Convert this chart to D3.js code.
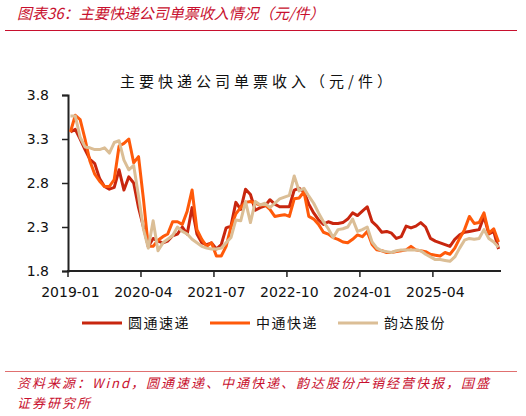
<!DOCTYPE html>
<html>
<head>
<meta charset="utf-8">
<script src="https://cdn.jsdelivr.net/npm/d3@7/dist/d3.min.js"></script>
<style>
  html, body { margin: 0; padding: 0; background: #fff; }
  svg { display: block; }
</style>
</head>
<body>
<div id="chart"></div>
<script>
// Express companies: revenue per parcel, monthly
var startMonth = new Date(2019, 0, 1);
var monthCount = 89;
var tickLabels = ['2019-01', '2020-04', '2021-07', '2022-10', '2024-01', '2025-04'];
var yTicks = [1.8, 2.3, 2.8, 3.3, 3.8];

var seriesNames = ['圆通速递', '中通快递', '韵达股份'];

var ytoValues = [
  3.38, 3.41, 3.30, 3.18, 3.07, 3.02, 2.85, 2.76, 2.73, 2.75, 2.95, 2.72,
  2.87, 2.80, 2.52, 2.30, 2.08, 2.17, 2.14, 2.12, 2.14, 2.20, 2.22, 2.30,
  2.22, 2.52, 2.22, 2.12, 2.10, 2.12, 2.05, 2.10, 2.29, 2.31, 2.58, 2.50,
  2.73, 2.67, 2.49, 2.52, 2.54, 2.61, 2.56, 2.53, 2.53, 2.53, 2.72, 2.74,
  2.70, 2.56, 2.46, 2.38, 2.33, 2.36, 2.34, 2.34, 2.35, 2.39, 2.46, 2.43,
  2.48, 2.53, 2.36, 2.31, 2.24, 2.25, 2.23, 2.17, 2.19, 2.31, 2.29, 2.31,
  2.35, 2.30, 2.17, 2.14, 2.12, 2.10, 2.08, 2.16, 2.21, 2.24, 2.25, 2.26,
  2.27, 2.42, 2.22, 2.25, 2.05
];

var ztoValues = [
  3.38, 3.57, 3.52, 3.30, 3.05, 2.90, 2.82, 2.76, 2.76, 2.84, 3.22, 3.25,
  3.30, 3.03, 3.10, 2.62, 2.08, 2.08, 2.15, 2.19, 2.22, 2.36, 2.36, 2.33,
  2.48, 2.72, 2.27, 2.16, 2.08, 2.12, 1.97, 1.97, 2.08, 2.30, 2.45, 2.52,
  2.58, 2.59, 2.57, 2.55, 2.55, 2.50, 2.42, 2.43, 2.44, 2.42, 2.62, 2.63,
  2.70, 2.42, 2.39, 2.33, 2.24, 2.22, 2.18, 2.16, 2.13, 2.12, 2.16, 2.21,
  2.19, 2.25, 2.10, 2.04, 2.03, 2.01, 2.01, 2.02, 2.03, 2.04, 2.08, 2.04,
  2.03, 2.02, 1.99, 1.98, 1.97, 2.01, 1.99, 2.06, 2.17, 2.27, 2.42, 2.34,
  2.35, 2.46, 2.23, 2.28, 2.13
];

var yundaValues = [
  3.56, 3.56, 3.32, 3.21, 3.20, 3.18, 3.18, 3.20, 3.14, 3.26, 3.28, 3.06,
  2.95, 3.00, 2.65, 2.28, 2.06, 2.37, 2.03, 2.12, 2.16, 2.20, 2.30, 2.25,
  2.22, 2.16, 2.12, 2.08, 2.06, 2.05, 2.05, 2.06, 2.12, 2.18, 2.38, 2.37,
  2.59, 2.35, 2.59, 2.55, 2.57, 2.52, 2.57, 2.62, 2.64, 2.66, 2.88, 2.71,
  2.74, 2.65, 2.57, 2.46, 2.36, 2.28, 2.18, 2.27, 2.28, 2.30, 2.39, 2.25,
  2.27, 2.30, 2.13, 2.06, 2.03, 2.02, 2.01, 2.03, 2.04, 2.04, 2.04, 2.04,
  2.03, 1.99, 1.96, 1.93, 1.93, 1.92, 1.91, 1.96, 2.06, 2.15, 2.17, 2.16,
  2.17, 2.27, 2.17, 2.13, 2.07
];

(function() {
  'use strict';

  var W = 526, H = 416;
  var red = '#C8102E';
  var colors = ['#C8260E', '#FF5A0A', '#DBBE96'];
  var cjk = '"Noto Sans CJK SC", "Noto Sans", sans-serif';
  var numFont = '"DejaVu Sans", Verdana, sans-serif';

  var fmt = d3.timeFormat('%Y-%m');
  var months = d3.timeMonth.range(startMonth, d3.timeMonth.offset(startMonth, monthCount)).map(fmt);

  var svg = d3.select('#chart').append('svg')
    .attr('width', W)
    .attr('height', H)
    .attr('viewBox', '0 0 ' + W + ' ' + H);

  svg.append('rect').attr('width', W).attr('height', H).attr('fill', '#fff');

  // --- Header ---
  svg.append('text')
    .attr('x', 17).attr('y', 19)
    .style('font-family', cjk)
    .style('font-size', '15px')
    .style('font-style', 'italic')
    .style('fill', red)
    .text('图表36：主要快递公司单票收入情况（元/件）');

  svg.append('line')
    .attr('x1', 5).attr('x2', 517)
    .attr('y1', 30.5).attr('y2', 30.5)
    .style('stroke', red).style('stroke-width', 1);

  // Inner chart title
  svg.append('text')
    .attr('x', 258).attr('y', 87)
    .attr('text-anchor', 'middle')
    .style('font-family', cjk)
    .style('font-size', '15px')
    .style('letter-spacing', '4px')
    .style('fill', '#111')
    .text('主要快递公司单票收入（元/件）');

  // --- Scales ---
  var x = d3.scaleBand().domain(months).range([68, 501]).padding(0);
  var y = d3.scaleLinear().domain([1.8, 3.8]).range([271, 95]);

  // Y axis
  var yAxis = svg.append('g')
    .attr('transform', 'translate(68,0)')
    .call(d3.axisLeft(y).tickValues(yTicks).tickFormat(d3.format('.1f')).tickSize(6).tickPadding(13));
  yAxis.select('.domain').style('stroke', '#222').style('stroke-width', 2);
  yAxis.selectAll('.tick line').style('stroke', '#222').style('stroke-width', 1.5);
  yAxis.selectAll('.tick text')
    .style('font-family', numFont).style('font-size', '14px').style('fill', '#111');

  // X axis: ticks at band edges, labels at band centres
  var xg = svg.append('g');
  xg.append('line')
    .attr('x1', 67).attr('x2', 501)
    .attr('y1', y(1.8)).attr('y2', y(1.8))
    .style('stroke', '#222').style('stroke-width', 2);

  var xt = xg.selectAll('g.xtick')
    .data(tickLabels)
    .join('g')
    .attr('class', 'xtick');
  xt.append('line')
    .attr('x1', function(d) { return x(d); })
    .attr('x2', function(d) { return x(d); })
    .attr('y1', y(1.8)).attr('y2', y(1.8) + 6)
    .style('stroke', '#222').style('stroke-width', 1.5);
  xt.append('text')
    .attr('x', function(d) { return x(d) + x.bandwidth() / 2; })
    .attr('y', y(1.8) + 26)
    .attr('text-anchor', 'middle')
    .style('font-family', numFont).style('font-size', '14px').style('fill', '#111')
    .text(function(d) { return d; });

  // --- Lines ---
  var allSeries = [ytoValues, ztoValues, yundaValues];
  var line = d3.line()
    .x(function(d, i) { return x(months[i]) + x.bandwidth() / 2; })
    .y(function(d) { return y(d); });

  svg.append('g').selectAll('path')
    .data(allSeries)
    .join('path')
    .attr('d', line)
    .style('fill', 'none')
    .style('stroke', function(d, i) { return colors[i]; })
    .style('stroke-width', 3)
    .style('stroke-linejoin', 'round');

  // --- Legend ---
  var legendX = [82, 210, 338];
  var lg = svg.append('g').selectAll('g')
    .data(seriesNames)
    .join('g')
    .attr('transform', function(d, i) { return 'translate(' + legendX[i] + ',323)'; });
  lg.append('line')
    .attr('x1', 0).attr('x2', 40)
    .style('stroke', function(d, i) { return colors[i]; })
    .style('stroke-width', 3);
  lg.append('text')
    .attr('x', 46).attr('y', 5)
    .style('font-family', cjk)
    .style('font-size', '14px')
    .style('letter-spacing', '1.5px')
    .style('fill', '#111')
    .text(function(d) { return d; });

  // --- Footer ---
  svg.append('line')
    .attr('x1', 5).attr('x2', 517)
    .attr('y1', 371.5).attr('y2', 371.5)
    .style('stroke', '#E07070').style('stroke-width', 1);

  var src = ['资料来源：Wind，圆通速递、中通快递、韵达股份产销经营快报，国盛', '证券研究所'];
  svg.append('g').selectAll('text')
    .data(src)
    .join('text')
    .attr('x', 17)
    .attr('y', function(d, i) { return 388 + i * 19.5; })
    .style('font-family', cjk)
    .style('font-size', '13px')
    .style('letter-spacing', '2px')
    .style('font-style', 'italic')
    .style('fill', red)
    .text(function(d) { return d; });
})();
</script>
</body>
</html>
